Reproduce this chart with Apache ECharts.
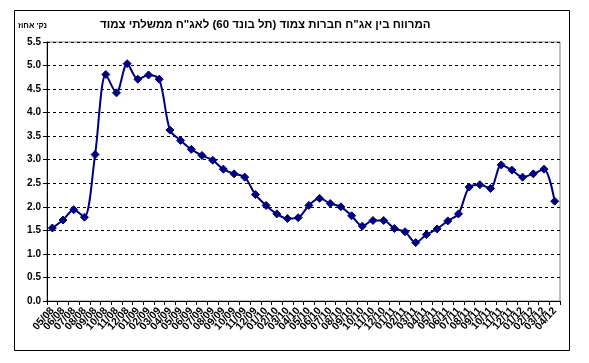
<!DOCTYPE html>
<html>
<head>
<meta charset="utf-8">
<script src="https://cdn.jsdelivr.net/npm/echarts@6/dist/echarts.min.js"></script>
<style>
html,body{margin:0;padding:0;background:#fff;}
#c{width:589px;height:363px;}
</style>
</head>
<body>
<div id="c"></div>
<script>
const titleText = '\u200Fהמרווח בין אג"ח חברות צמוד (תל בונד 60) לאג"ח ממשלתי צמוד\u200F';
const yAxisName = '\u200Fנק\' אחוז\u200F';
const categories = [
  '05/08','06/08','07/08','08/08','09/08','10/08','11/08','12/08',
  '01/09','02/09','03/09','04/09','05/09','06/09','07/09','08/09','09/09','10/09','11/09','12/09',
  '01/10','02/10','03/10','04/10','05/10','06/10','07/10','08/10','09/10','10/10','11/10','12/10',
  '01/11','02/11','03/11','04/11','05/11','06/11','07/11','08/11','09/11','10/11','11/11','12/11',
  '01/12','02/12','03/12','04/12'
];
const spread = [
  1.55,1.72,1.94,1.78,3.11,4.81,4.42,5.04,
  4.71,4.80,4.71,3.63,3.41,3.22,3.09,2.99,2.80,2.70,2.63,2.26,
  2.03,1.85,1.75,1.77,2.03,2.18,2.07,2.00,1.81,1.59,1.71,1.71,
  1.54,1.47,1.24,1.41,1.53,1.70,1.85,2.42,2.47,2.39,2.89,2.78,
  2.63,2.70,2.80,2.12
];
const yTicks = {min: 0, max: 5.5, interval: 0.5};

const FONT = 'Liberation Sans, Arial, DejaVu Sans, sans-serif';
const chart = echarts.init(document.getElementById('c'), null, {renderer: 'canvas'});
chart.setOption({
  animation: false,
  backgroundColor: '#fff',
  graphic: [
    {type: 'rect', shape: {x: 14.5, y: 10.5, width: 555, height: 340},
     style: {fill: 'none', stroke: '#000', lineWidth: 1}, silent: true, z: -1},
    {type: 'text', left: 100, top: 19,
     style: {text: titleText, font: 'bold 11.5px ' + FONT, fill: '#000'}},
    {type: 'text', left: 18, top: 22,
     style: {text: yAxisName, font: 'bold 8px ' + FONT, fill: '#000'}}
  ],
  grid: {left: 47, right: 29, top: 42, bottom: 62, show: true,
         borderColor: '#808080', borderWidth: 1, backgroundColor: '#fff'},
  xAxis: {
    type: 'category', data: categories, boundaryGap: true,
    axisLine: {lineStyle: {color: '#000', width: 1}},
    axisTick: {show: true, interval: 0, inside: false, length: 4, lineStyle: {color: '#000'}},
    axisLabel: {interval: 0, rotate: 48, fontSize: 10.5, fontWeight: 'bold',
                fontFamily: FONT, color: '#000', margin: 8},
    splitLine: {show: false}
  },
  yAxis: {
    type: 'value', min: yTicks.min, max: yTicks.max, interval: yTicks.interval,
    axisLine: {show: true, lineStyle: {color: '#000', width: 1}},
    axisTick: {show: true, inside: false, length: 4, lineStyle: {color: '#000'}},
    axisLabel: {fontSize: 10, fontWeight: 'bold', fontFamily: FONT, color: '#000',
                margin: 6, formatter: v => v.toFixed(1)},
    splitLine: {show: true, lineStyle: {color: '#000', type: [3, 3], width: 1}}
  },
  series: [{
    type: 'line', data: spread, smooth: 0.3,
    symbol: 'diamond', symbolSize: 8,
    lineStyle: {color: '#000080', width: 2},
    itemStyle: {color: '#000080', borderColor: '#000080'},
    z: 5
  }]
});
</script>
</body>
</html>
